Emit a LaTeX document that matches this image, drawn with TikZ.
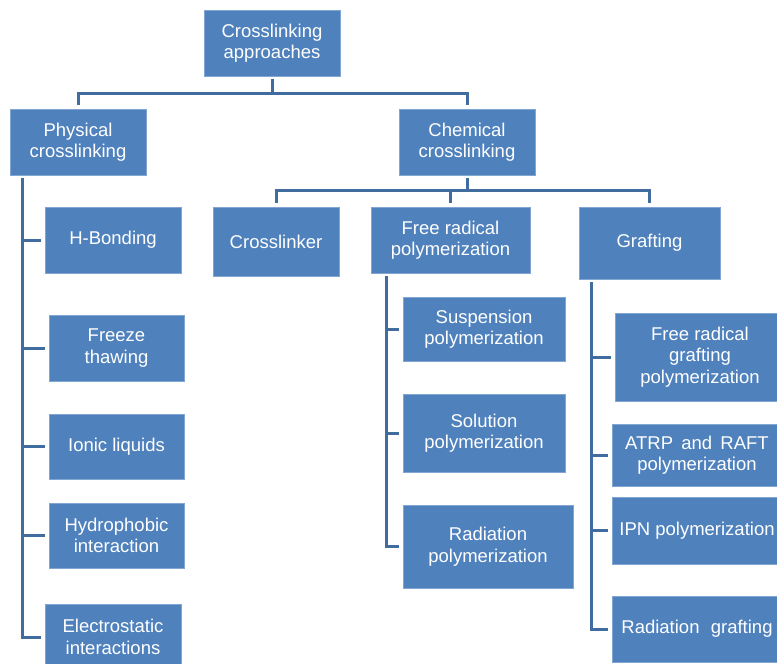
\documentclass[tikz,border=0pt]{standalone}
\usepackage{fontspec}
\setmainfont{Liberation Sans}
\definecolor{boxfill}{RGB}{79,129,189}
\definecolor{boxline}{RGB}{130,166,212}
\definecolor{connline}{RGB}{65,108,160}
\begin{document}
\begin{tikzpicture}[x=1pt,y=-1pt,
  box/.style={draw=boxline, line width=0.8pt, fill=boxfill, text=white, inner sep=0pt,
    align=center, font=\fontsize{18.5}{21.5}\selectfont},
  conn/.style={draw=connline, line width=3pt, shorten <=3pt, shorten >=3.5pt}]
\useasboundingbox (0,0) rectangle (777,664);
\fill[white] (0,0) rectangle (777,664);
\clip (0,0) rectangle (777,664);

\node[box, minimum width=136, minimum height=66] (root) at (272,43) {Crosslinking\\approaches};
\node[box, minimum width=136, minimum height=66] (phys) at (78,142) {Physical\\crosslinking};
\node[box, minimum width=136, minimum height=66] (chem) at (467,142) {Chemical\\crosslinking};

\node[box, minimum width=136, minimum height=66] (hb) at (113,240) {H-Bonding};
\node[box, minimum width=135, minimum height=66] (fz) at (116.5,348) {Freeze\\thawing};
\node[box, minimum width=135, minimum height=65] (ion) at (116.5,446.5) {Ionic liquids};
\node[box, minimum width=135, minimum height=65] (hyd) at (116.5,535.5) {Hydrophobic\\interaction};
\node[box, minimum width=136, minimum height=66] (ele) at (113,637) {Electrostatic\\interactions};

\node[box, minimum width=126, minimum height=69] (cl) at (276,241.5) {Crosslinker};
\node[box, minimum width=159, minimum height=66] (fr) at (450.5,240) {Free radical\\polymerization};
\node[box, minimum width=141, minimum height=72] (gr) at (649.5,243) {Grafting};

\node[box, minimum width=162, minimum height=64] (sus) at (484,329) {Suspension\\polymerization};
\node[box, minimum width=162, minimum height=78] (sol) at (484,433) {Solution\\polymerization};
\node[box, minimum width=170, minimum height=83] (rad) at (488,546.5) {Radiation\\polymerization};

\node[box, minimum width=170, minimum height=88] (frg) at (700,357) {Free radical\\grafting\\polymerization};
\node[box, minimum width=170, minimum height=62] (atrp) at (697,455) {ATRP\, and\, RAFT\\polymerization};
\node[box, minimum width=170, minimum height=67] (ipn) at (697,530.5) {IPN polymerization};
\node[box, minimum width=170, minimum height=66] (radg) at (697,629) {Radiation\,\, grafting};

% top level
\draw[conn] (root.south) -- ++(0,17) -| (phys.north);
\draw[conn] (root.south) -- ++(0,17) -| (chem.north);

% chemical level
\draw[conn] (chem.south) -- ++(0,15) -| (cl.north);
\draw[conn] (chem.south) -- ++(0,15) -| (fr.north);
\draw[conn] (chem.south) -- ++(0,15) -| (gr.north);

% physical trunk
\foreach \n in {hb,fz,ion,hyd,ele}
  \draw[conn] ([xshift=-56]phys.south) |- (\n.west);

% free radical trunk
\foreach \n in {sus,sol,rad}
  \draw[conn] ([xshift=-64.5]fr.south) |- (\n.west);

% grafting trunk
\foreach \n in {frg,atrp,ipn,radg}
  \draw[conn] ([xshift=-58.5]gr.south) |- (\n.west);
\end{tikzpicture}
\end{document}
